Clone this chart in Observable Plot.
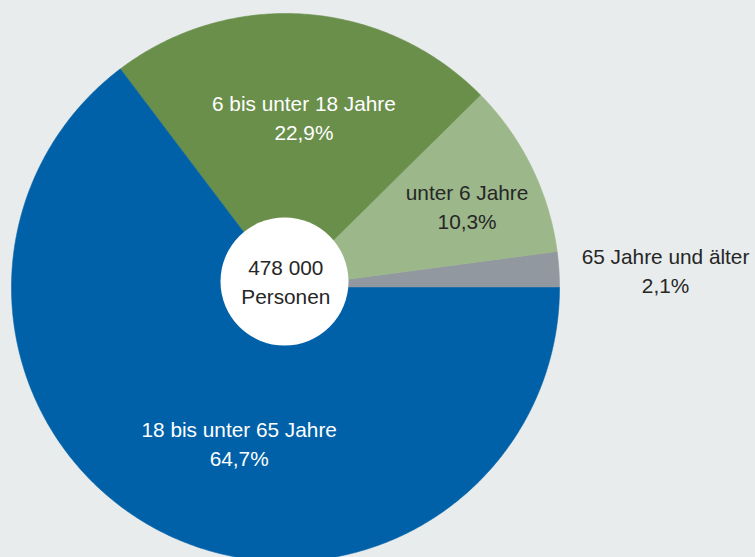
<!DOCTYPE html>
<html><head><meta charset="utf-8">
<script src="https://cdn.jsdelivr.net/npm/d3@7"></script>
<script src="https://cdn.jsdelivr.net/npm/@observablehq/plot@0.6"></script>
<style>
html,body{margin:0;padding:0;background:#e8ecec;}
#chart{width:755px;height:557px;overflow:hidden;}
</style>
</head><body><div id="chart"></div>
<script>
// ---- data ----
const categories = ["65 Jahre und älter", "unter 6 Jahre", "6 bis unter 18 Jahre", "18 bis unter 65 Jahre"];
const shares = [2.1, 10.3, 22.9, 64.7];
const shareLabels = ["2,1%", "10,3%", "22,9%", "64,7%"];
const totalLabel = ["478 000", "Personen"];

// ---- styles / layout ----
const colors = ["#9298a0", "#9cb78a", "#6a8f4b", "#0061a8"];
const textColors = ["#262626", "#262626", "#ffffff", "#ffffff"];
const W = 755, H = 557, CX = 285, CY = 287, R = 274;
const HOLE = {x: 284, y: 281, r: 64};
const labelRadius = [1.39, 0.727, 0.627, 0.59];
const labelShift = [[0, 6.6], [2.7, 5.6], [6, 0], [25.7, 10.4]];

// ---- geometry from data ----
const total = d3.sum(shares);
let acc = 0;
const slices = shares.map((v, i) => {
  const a0 = acc / total * 2 * Math.PI;
  acc += v;
  const a1 = acc / total * 2 * Math.PI;
  return {i, cat: categories[i], a0, a1, mid: (a0 + a1) / 2};
});
const poly = [];
for (const s of slices) {
  poly.push({cat: s.cat, col: colors[s.i], x: CX, y: CY});
  const n = Math.max(4, Math.ceil((s.a1 - s.a0) / (Math.PI / 360)));
  for (let k = 0; k <= n; k++) {
    const a = s.a0 + (s.a1 - s.a0) * k / n;
    poly.push({cat: s.cat, col: colors[s.i], x: CX + R * Math.cos(a), y: CY - R * Math.sin(a)});
  }
  poly.push({cat: s.cat, col: colors[s.i], x: CX, y: CY});
}
const labels = slices.map(s => ({
  text: s.cat + "\n" + shareLabels[s.i],
  col: textColors[s.i],
  x: CX + labelRadius[s.i] * R * Math.cos(s.mid) + labelShift[s.i][0],
  y: CY - labelRadius[s.i] * R * Math.sin(s.mid) + labelShift[s.i][1]
}));

const chart = Plot.plot({
  width: W, height: H,
  margin: 0,
  style: {background: "#e8ecec", fontFamily: "'Liberation Sans', Arial, sans-serif"},
  x: {domain: [0, W], range: [0, W], axis: null},
  y: {domain: [0, H], range: [0, H], axis: null},
  color: {type: "identity"},
  marks: [
    Plot.line(poly, {x: "x", y: "y", z: "cat", fill: "col", stroke: "col", strokeWidth: 0.6}),
    Plot.dot([HOLE], {x: "x", y: "y", r: HOLE.r, fill: "white", stroke: null}),
    Plot.text(labels, {x: "x", y: "y", text: "text", fill: "col", fontSize: 20.8, lineHeight: 1.38, textAnchor: "middle"}),
    Plot.text([{t: totalLabel.join("\n"), x: 285.3, y: 279.5}], {x: "x", y: "y", text: "t", fill: "#262626", fontSize: 20.8, lineHeight: 1.38, textAnchor: "middle"})
  ]
});
document.getElementById("chart").appendChild(chart);
</script>
</body></html>
